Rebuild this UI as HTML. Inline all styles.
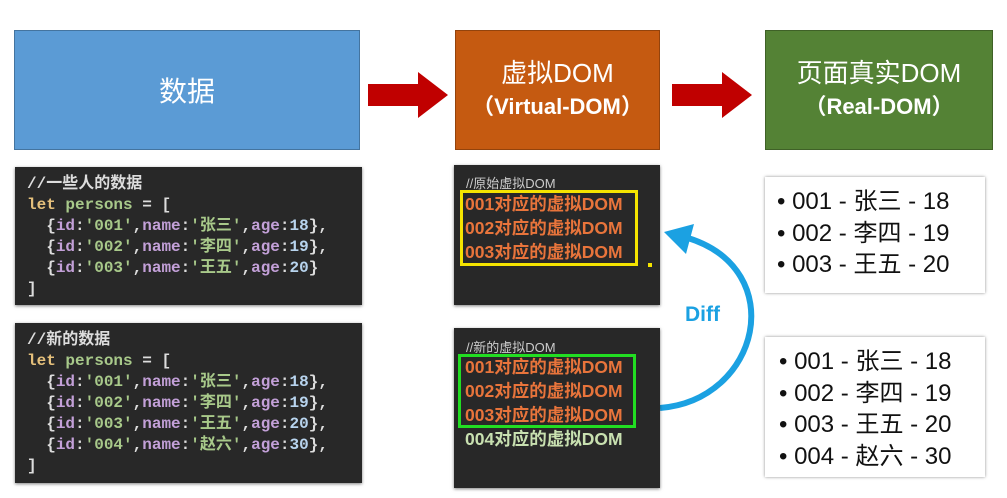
<!DOCTYPE html>
<html><head><meta charset="utf-8"><style>
*{margin:0;padding:0;box-sizing:border-box}
body{width:1007px;height:498px;background:#fff;position:relative;overflow:hidden;font-family:"Liberation Sans","Noto Sans CJK SC",sans-serif}
.a{position:absolute}
.hdr{position:absolute;color:#fff;display:flex;flex-direction:column;align-items:center;justify-content:center;text-align:center;border:1px solid rgba(0,0,0,.25)}
.code{position:absolute;background:#282828;box-shadow:0 1px 3px rgba(0,0,0,.5);font-family:"Liberation Mono","Noto Sans CJK SC",monospace;font-size:16px;line-height:21px;color:#ddd;padding:7px 0 0 12px;font-weight:bold;white-space:pre}
.k{color:#e5c07b}.v{color:#a8c98a}.p{color:#c3a0d8}.n{color:#b8d4ee}.s{color:#a8c98a}
.vd{position:absolute;background:#282828;box-shadow:0 1px 3px rgba(0,0,0,.5);font-family:"Liberation Sans","Noto Sans CJK SC",sans-serif;font-weight:bold}
.vd .c{color:#ccc;font-size:13px;position:absolute;left:12px;font-weight:normal}
.o{color:#e8743b;font-size:17.5px;line-height:24px;position:absolute;left:11px;white-space:nowrap}
.list{position:absolute;background:#fff;box-shadow:0 0 3px rgba(0,0,0,.45);font-size:24px;line-height:31.5px;color:#111;padding:9px 0 0 12px;font-family:"Liberation Sans","Noto Sans CJK SC",sans-serif;white-space:nowrap}
</style></head><body>
<div class="hdr" style="left:14px;top:30px;width:346px;height:120px;background:#5b9bd5;font-size:28px">数据</div>
<div class="hdr" style="left:455px;top:30px;width:205px;height:120px;background:#c55a11;font-size:26px;line-height:34px">虚拟DOM<span style="font-weight:bold;font-size:22px">（Virtual-DOM）</span></div>
<div class="hdr" style="left:765px;top:30px;width:228px;height:120px;background:#548235;font-size:26px;line-height:34px">页面真实DOM<span style="font-weight:bold;font-size:22px">（Real-DOM）</span></div>
<svg class="a" style="left:0;top:0" width="1007" height="498">
<polygon points="368,84 418,84 418,72 448,95 418,118 418,106 368,106" fill="#c00000"/>
<polygon points="672,84 722,84 722,72 752,95 722,118 722,106 672,106" fill="#c00000"/>
<path d="M660,408 C760,400 790,270 688,238" fill="none" stroke="#1ba1e2" stroke-width="6"/>
<polygon points="664,232 694,224 686,254" fill="#1ba1e2"/>
</svg>
<div class="a" style="left:685px;top:303px;color:#1ba1e2;font-weight:bold;font-size:21px">Diff</div>
<div class="code" style="left:15px;top:167px;width:347px;height:138px"><span style="color:#ddd">//一些人的数据</span>
<span class="k">let</span> <span class="v">persons</span> = [
  {<span class="p">id</span>:<span class="s">'001'</span>,<span class="p">name</span>:<span class="s">'张三'</span>,<span class="p">age</span>:<span class="n">18</span>},
  {<span class="p">id</span>:<span class="s">'002'</span>,<span class="p">name</span>:<span class="s">'李四'</span>,<span class="p">age</span>:<span class="n">19</span>},
  {<span class="p">id</span>:<span class="s">'003'</span>,<span class="p">name</span>:<span class="s">'王五'</span>,<span class="p">age</span>:<span class="n">20</span>}
]</div>
<div class="code" style="left:15px;top:323px;width:347px;height:160px"><span style="color:#ddd">//新的数据</span>
<span class="k">let</span> <span class="v">persons</span> = [
  {<span class="p">id</span>:<span class="s">'001'</span>,<span class="p">name</span>:<span class="s">'张三'</span>,<span class="p">age</span>:<span class="n">18</span>},
  {<span class="p">id</span>:<span class="s">'002'</span>,<span class="p">name</span>:<span class="s">'李四'</span>,<span class="p">age</span>:<span class="n">19</span>},
  {<span class="p">id</span>:<span class="s">'003'</span>,<span class="p">name</span>:<span class="s">'王五'</span>,<span class="p">age</span>:<span class="n">20</span>},
  {<span class="p">id</span>:<span class="s">'004'</span>,<span class="p">name</span>:<span class="s">'赵六'</span>,<span class="p">age</span>:<span class="n">30</span>},
]</div>
<div class="vd" style="left:454px;top:165px;width:206px;height:140px">
<div class="c" style="top:8px">//原始虚拟DOM</div>
<div class="a" style="left:6px;top:25px;width:178px;height:76px;border:3px solid #f5e400"></div>
<div class="o" style="top:27px">001对应的虚拟DOM</div>
<div class="o" style="top:51px">002对应的虚拟DOM</div>
<div class="o" style="top:75px">003对应的虚拟DOM</div>
<div class="a" style="left:194px;top:98px;width:4px;height:4px;background:#f5e400"></div>
</div>
<div class="vd" style="left:454px;top:328px;width:206px;height:160px">
<div class="c" style="top:9px">//新的虚拟DOM</div>
<div class="a" style="left:4px;top:26px;width:178px;height:74px;border:3px solid #22dd22"></div>
<div class="o" style="top:27px">001对应的虚拟DOM</div>
<div class="o" style="top:51px">002对应的虚拟DOM</div>
<div class="o" style="top:75px">003对应的虚拟DOM</div>
<div class="o" style="top:99px;color:#c8e0b0">004对应的虚拟DOM</div>
</div>
<div class="list" style="left:765px;top:177px;width:220px;height:116px">• 001 - 张三 - 18<br>• 002 - 李四 - 19<br>• 003 - 王五 - 20</div>
<div class="list" style="left:765px;top:337px;width:220px;height:140px;padding-left:14px">• 001 - 张三 - 18<br>• 002 - 李四 - 19<br>• 003 - 王五 - 20<br>• 004 - 赵六 - 30</div>
</body></html>
